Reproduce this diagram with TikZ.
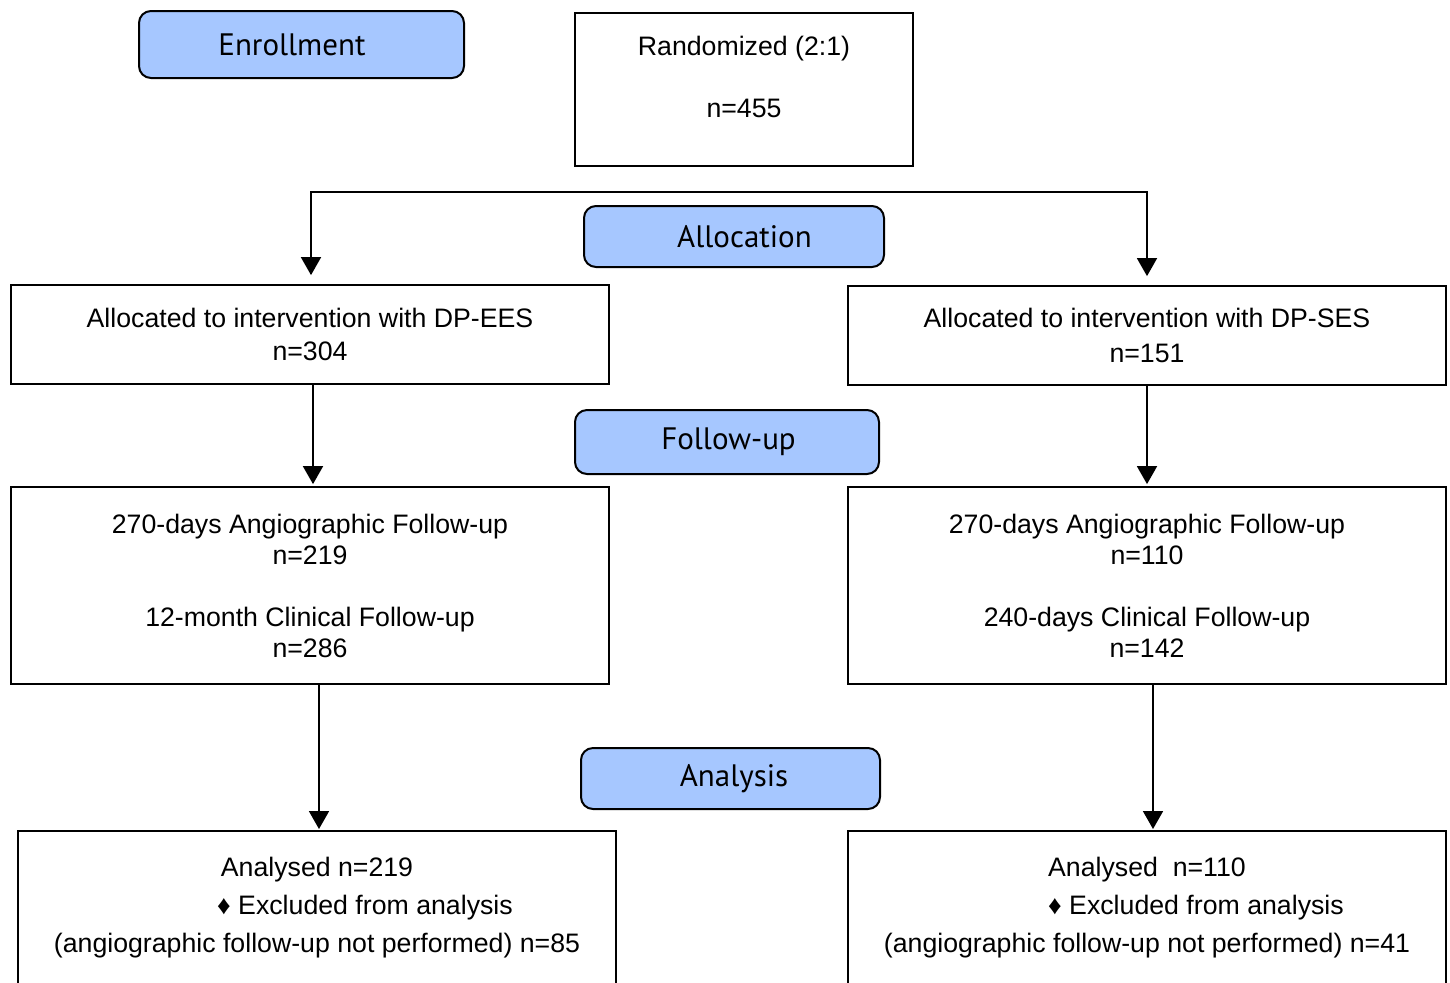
\documentclass[tikz,border=0pt]{standalone}
\usepackage{fontspec}
\setmainfont{Liberation Sans}
\newfontfamily\stagefont{PT Sans}
\usetikzlibrary{arrows.meta}
\definecolor{stageblue}{RGB}{166,199,255}
\tikzset{
  stage/.style={draw, line width=1pt, rounded corners=6pt, fill=stageblue,
    inner sep=0pt, font=\stagefont\fontsize{15.5}{18}\selectfont},
  infobox/.style={draw, line width=0.9pt, align=center, inner sep=0pt,
    font=\fontsize{13.35}{15.5}\selectfont},
  arr/.style={-{Triangle[width=10pt,length=9pt]}, line width=0.9pt}
}
\begin{document}
\begin{tikzpicture}[x=0.5pt,y=-0.5pt]
  \clip (0,0) rectangle (1450,982);
  \fill[white] (0,0) rectangle (1450,982);

  \node[stage, minimum width=162.5pt, minimum height=33.5pt] (enroll) at (301.5,44.5) {\hspace*{-9.5pt}Enrollment};
  \node[infobox, minimum width=169pt, minimum height=76.5pt, text depth=12.7pt] (rand) at (744,89.5) {Randomized (2:1)\\[15.5pt] n=455};

  \node[stage, minimum width=150pt, minimum height=30.5pt] (alloc) at (734,236.5) {\hspace*{10.5pt}Allocation};
  \node[infobox, minimum width=299pt, minimum height=49.5pt, font=\fontsize{13.35}{16.5}\selectfont] (allocL) at (310,334.5) {Allocated to intervention with DP-EES\\ n=304};
  \node[infobox, minimum width=299pt, minimum height=49.5pt, font=\fontsize{13.35}{17.5}\selectfont] (allocR) at (1147,335.5) {Allocated to intervention with DP-SES\\ n=151};

  \node[stage, minimum width=152pt, minimum height=32pt] (follow) at (727,442) {\hspace*{1.5pt}Follow-up};
  \node[infobox, minimum width=299pt, minimum height=98.5pt] (fuL) at (310,585.5) {270-days Angiographic Follow-up\\ n=219\\[15.5pt] 12-month Clinical Follow-up\\ n=286};
  \node[infobox, minimum width=299pt, minimum height=98.5pt] (fuR) at (1147,585.5) {270-days Angiographic Follow-up\\ n=110\\[15.5pt] 240-days Clinical Follow-up\\ n=142};

  \node[stage, minimum width=149.5pt, minimum height=30.5pt] (analysis) at (730.5,778.5) {\hspace*{3.5pt}Analysis};
  \node[infobox, minimum width=299pt, inner ysep=13pt, anchor=north, font=\fontsize{13.35}{19}\selectfont] (anL) at (317,830)
    {Analysed n=219\\ \hspace*{48pt}\symbol{"2666} Excluded from analysis\\ (angiographic follow-up not performed) n=85\\ ~\\ ~};
  \node[infobox, minimum width=299pt, inner ysep=13pt, anchor=north, font=\fontsize{13.35}{19}\selectfont] (anR) at (1147,830)
    {Analysed\ \ n=110\\ \hspace*{49pt}\symbol{"2666} Excluded from analysis\\ (angiographic follow-up not performed) n=41\\ ~\\ ~};

  \coordinate (split) at (729,192);
  \draw[arr, shorten >=4.5pt] (split) -| ([xshift=0.5pt]allocL.north);
  \draw[arr, shorten >=4.5pt] (split) -| (allocR.north);
  \draw[arr, shorten >=1pt] ([xshift=1.5pt]allocL.south) -- ([xshift=1.5pt]fuL.north);
  \draw[arr, shorten >=1pt] (allocR.south) -- (fuR.north);
  \draw[arr, shorten >=0.5pt] ([xshift=1pt]fuL.south -| anL.north) -- ([xshift=1pt]anL.north);
  \draw[arr, shorten >=0.5pt] ([xshift=3pt]fuR.south) -- ([xshift=3pt]anR.north);
\end{tikzpicture}
\end{document}
